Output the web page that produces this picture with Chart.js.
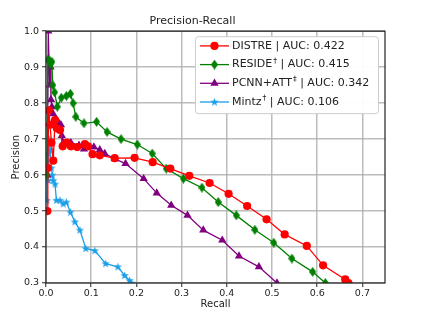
<!DOCTYPE html>
<html>
<head>
<meta charset="utf-8">
<script src="https://cdn.jsdelivr.net/npm/chart.js@4/dist/chart.umd.min.js"></script>
<style>
  html, body { margin: 0; padding: 0; background: #fff; }
  #wrap { width: 427px; height: 310px; }
</style>
</head>
<body>
<div id="wrap"><canvas id="prChart" width="427" height="310"></canvas></div>
<script>
// series (recall, precision)
const distreRecall = [0.003, 0.004, 0.006, 0.009, 0.012, 0.016, 0.020, 0.024, 0.031, 0.037, 0.046, 0.055, 0.069, 0.086, 0.093, 0.103, 0.119, 0.152, 0.196, 0.236, 0.275, 0.317, 0.362, 0.404, 0.445, 0.488, 0.528, 0.577, 0.613, 0.662, 0.669];
const distrePrec   = [0.50, 0.62, 0.78, 0.74, 0.69, 0.64, 0.753, 0.73, 0.725, 0.68, 0.69, 0.68, 0.678, 0.686, 0.68, 0.658, 0.655, 0.647, 0.648, 0.636, 0.618, 0.598, 0.578, 0.548, 0.514, 0.477, 0.435, 0.403, 0.349, 0.31, 0.30];

const resideRecall = [0.002, 0.004, 0.007, 0.010, 0.013, 0.015, 0.019, 0.025, 0.034, 0.045, 0.054, 0.060, 0.066, 0.084, 0.112, 0.135, 0.166, 0.202, 0.235, 0.266, 0.304, 0.345, 0.381, 0.421, 0.462, 0.504, 0.544, 0.590, 0.618];
const residePrec   = [0.60, 0.92, 0.92, 0.91, 0.915, 0.85, 0.83, 0.79, 0.815, 0.82, 0.826, 0.80, 0.762, 0.744, 0.748, 0.72, 0.70, 0.685, 0.66, 0.618, 0.59, 0.565, 0.525, 0.488, 0.448, 0.412, 0.368, 0.331, 0.30];

const pcnnRecall = [0.003, 0.005, 0.008, 0.010, 0.011, 0.013, 0.016, 0.024, 0.028, 0.033, 0.035, 0.038, 0.055, 0.073, 0.084, 0.106, 0.119, 0.130, 0.152, 0.176, 0.216, 0.245, 0.277, 0.313, 0.348, 0.390, 0.427, 0.471, 0.511];
const pcnnPrec   = [0.60, 1.00, 0.85, 0.90, 0.81, 0.79, 0.77, 0.753, 0.745, 0.74, 0.71, 0.69, 0.69, 0.683, 0.672, 0.678, 0.67, 0.66, 0.645, 0.632, 0.59, 0.55, 0.516, 0.488, 0.447, 0.419, 0.375, 0.345, 0.30];

const mintzRecall = [0.002, 0.004, 0.005, 0.007, 0.009, 0.012, 0.014, 0.016, 0.020, 0.023, 0.031, 0.038, 0.045, 0.054, 0.064, 0.075, 0.088, 0.108, 0.132, 0.159, 0.174, 0.185, 0.189];
const mintzPrec   = [0.53, 0.66, 0.585, 0.70, 0.67, 0.62, 0.60, 0.585, 0.575, 0.53, 0.53, 0.52, 0.525, 0.497, 0.47, 0.447, 0.396, 0.39, 0.354, 0.345, 0.321, 0.307, 0.30];

const seriesNames = ["DISTRE", "RESIDE", "PCNN+ATT", "Mintz"];
const seriesSup   = ["", "\u2020", "\u2021", "\u2020"];
const seriesAuc   = ["0.422", "0.415", "0.342", "0.106"];

const xTicks = [0, 0.1, 0.2, 0.3, 0.4, 0.5, 0.6, 0.7];
const yTicks = [0.3, 0.4, 0.5, 0.6, 0.7, 0.8, 0.9, 1.0];

const FONT = "'DejaVu Sans', sans-serif";

function pairs(xs, ys) {
  return xs.map((x, i) => ({ x: x, y: ys[i] }));
}

// matplotlib-like thin diamond and filled star markers
function makeMarker(kind, color) {
  const c = document.createElement("canvas");
  let g;
  if (kind === "thinDiamond") {
    c.width = 7; c.height = 10;
    g = c.getContext("2d");
    g.fillStyle = color;
    g.beginPath();
    g.moveTo(3.5, 0); g.lineTo(7, 5); g.lineTo(3.5, 10); g.lineTo(0, 5);
  } else {
    c.width = 9; c.height = 9;
    g = c.getContext("2d");
    g.fillStyle = color;
    g.beginPath();
    for (let i = 0; i < 10; i++) {
      const r = i % 2 === 0 ? 4.4 : 1.8;
      const a = -Math.PI / 2 + i * Math.PI / 5;
      const px = 4.5 + r * Math.cos(a), py = 4.8 + r * Math.sin(a);
      if (i === 0) g.moveTo(px, py); else g.lineTo(px, py);
    }
  }
  g.closePath();
  g.fill();
  return c;
}

const colors = ["#ff0000", "#008000", "#800080", "#1a9ee8"];
const styles = ["circle", makeMarker("thinDiamond", colors[1]), "triangle", makeMarker("star", colors[3])];
const radii = [4.1, 4, 4.8, 4];

const xs = [distreRecall, resideRecall, pcnnRecall, mintzRecall];
const ys = [distrePrec, residePrec, pcnnPrec, mintzPrec];

const datasets = seriesNames.map((name, i) => ({
  label: name + seriesSup[i] + " | AUC: " + seriesAuc[i],
  data: pairs(xs[i], ys[i]),
  borderColor: colors[i],
  backgroundColor: colors[i],
  borderWidth: 1.3,
  pointStyle: styles[i],
  pointRadius: radii[i],
  pointBorderWidth: 0,
  pointHoverRadius: radii[i],
  tension: 0,
  fill: false,
  clip: 0,
}));

const frame = {
  id: "frame",
  afterDatasetsDraw(chart) {
    const { ctx, chartArea: a } = chart;
    ctx.save();
    ctx.strokeStyle = "#222";
    ctx.lineWidth = 1.2;
    ctx.strokeRect(a.left, a.top, a.right - a.left, a.bottom - a.top);
    ctx.restore();
  },
};

const legendInside = {
  id: "legendInside",
  afterDraw(chart) {
    const { ctx, chartArea: a } = chart;
    const w = 183, h = 77, rowH = 18.7;
    const x0 = a.right - 7 - w, y0 = a.top + 5;
    ctx.save();
    ctx.fillStyle = "rgba(255,255,255,0.95)";
    ctx.strokeStyle = "#cccccc";
    ctx.lineWidth = 1;
    ctx.beginPath();
    ctx.roundRect(x0 + 0.5, y0 + 0.5, w, h, 3);
    ctx.fill();
    ctx.stroke();

    chart.data.datasets.forEach((ds, i) => {
      const cy = y0 + 9.7 + i * rowH;
      ctx.strokeStyle = ds.borderColor;
      ctx.fillStyle = ds.backgroundColor;
      ctx.lineWidth = 1.3;
      ctx.beginPath();
      ctx.moveTo(x0 + 5, cy);
      ctx.lineTo(x0 + 34, cy);
      ctx.stroke();
      Chart.helpers.drawPoint(ctx, {
        pointStyle: ds.pointStyle, radius: ds.pointRadius, rotation: 0, borderWidth: 0,
      }, x0 + 19.5, cy);

      ctx.fillStyle = "#222";
      ctx.textBaseline = "middle";
      ctx.textAlign = "left";
      let tx = x0 + 37;
      ctx.font = "11px " + FONT;
      ctx.fillText(seriesNames[i], tx, cy);
      tx += ctx.measureText(seriesNames[i]).width;
      if (seriesSup[i]) {
        ctx.font = "7.5px " + FONT;
        ctx.fillText(seriesSup[i], tx + 1, cy - 4);
        tx += ctx.measureText(seriesSup[i]).width + 1;
      }
      ctx.font = "11px " + FONT;
      ctx.fillText(" | AUC: " + seriesAuc[i], tx, cy);
    });
    ctx.restore();
  },
};

const gridColor = "rgba(176,176,176,0.85)";

new Chart(document.getElementById("prChart"), {
  type: "line",
  data: { datasets },
  plugins: [frame, legendInside],
  options: {
    responsive: false,
    animation: false,
    layout: { padding: { left: 0, right: 42, top: 0, bottom: 0 } },
    plugins: {
      legend: { display: false },
      tooltip: { enabled: false },
      title: {
        display: true,
        text: "Precision-Recall",
        color: "#222",
        font: { family: FONT, size: 11, weight: "normal" },
        padding: { top: 15, bottom: 3 },
      },
    },
    scales: {
      x: {
        type: "linear",
        min: 0,
        max: 0.75,
        afterFit: (s) => { s.height = 27; },
        afterBuildTicks: (s) => { s.ticks = xTicks.map((v) => ({ value: v })); },
        ticks: {
          callback: (v) => v.toFixed(1),
          color: "#222",
          font: { family: FONT, size: 9.5 },
          padding: 1,
          maxRotation: 0,
        },
        grid: { color: gridColor, lineWidth: 1.5, tickLength: 4, tickColor: "#222", tickWidth: 1 },
        border: { display: false },
        title: {
          display: true,
          text: "Recall",
          color: "#222",
          font: { family: FONT, size: 10 },
          padding: { top: 0, bottom: 0 },
        },
      },
      y: {
        type: "linear",
        min: 0.3,
        max: 1.0,
        afterFit: (s) => { s.width = 46; },
        afterBuildTicks: (s) => { s.ticks = yTicks.map((v) => ({ value: v })); },
        ticks: {
          callback: (v) => v.toFixed(1),
          color: "#222",
          font: { family: FONT, size: 9.5 },
          padding: 3,
        },
        grid: { color: gridColor, lineWidth: 1.5, tickLength: 4, tickColor: "#222", tickWidth: 1 },
        border: { display: false },
        title: {
          display: true,
          text: "Precision",
          color: "#222",
          font: { family: FONT, size: 10 },
          padding: { top: 10, bottom: 0 },
        },
      },
    },
  },
});
</script>
</body>
</html>
